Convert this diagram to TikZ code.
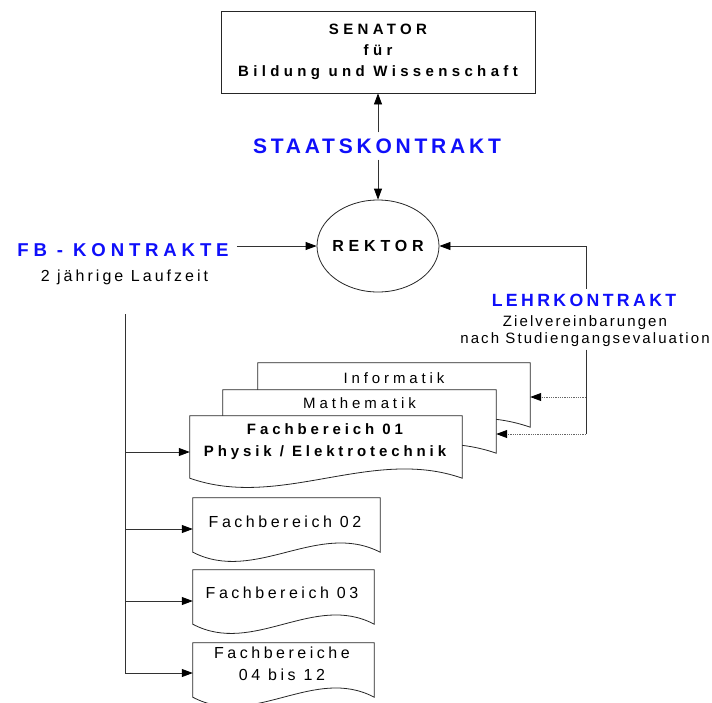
\documentclass[tikz,border=0pt]{standalone}
\usepackage{fontspec}
\setmainfont{Liberation Sans}
\usetikzlibrary{calc,arrows.meta,shapes.geometric}
\definecolor{kblue}{RGB}{15,15,250}
\definecolor{lgray}{RGB}{50,50,50}
\newcommand{\fsz}[2]{\fontsize{#1}{#2}\selectfont}
\newcommand{\trk}[1]{\addfontfeatures{LetterSpace=#1}}
\newcommand{\docoutline}[2]{%
  \draw[shapeline, fill=white] (#1.north west) -- (#1.north east) -- (#1.south east)
    .. controls ($(#1.south east)+(-#2/3,-32)$) and ($(#1.south west)+(#2/3,32)$) .. (#1.south west) -- cycle;}
\begin{document}
\begin{tikzpicture}[x=1pt,y=-1pt,
  shapeline/.style={draw=black!85, line width=0.8pt},
  conn/.style={draw=lgray, line width=0.8pt},
  arr/.style={conn, -{Triangle[length=11pt,width=8pt,color=black]}},
  darr/.style={draw=black!60, line width=0.8pt, densely dotted, -{Triangle[length=11pt,width=8pt,color=black]}},
  docbox/.style={draw=none, inner sep=0pt},
  txt/.style={inner sep=0pt, align=center, text=black}
]
\useasboundingbox (0,0) rectangle (712,702);

% top box
\node[shapeline, rectangle, minimum width=314pt, minimum height=82pt, inner sep=0pt, align=center,
      font=\bfseries\fsz{15}{21}\trk{29}] (senator) at (378,52)
      {SENATOR\\für\\Bildung und Wissenschaft};

% Rektor
\node[shapeline, ellipse, minimum width=122pt, minimum height=92pt, inner sep=0pt,
      font=\bfseries\fsz{16}{19}\trk{30}] (rektor) at (378,246) {\makebox[0pt]{REKTOR}};

% Staatskontrakt
\node[inner sep=6pt, text=kblue, font=\bfseries\fsz{21}{24}\trk{18}] (staats) at (377,146) {STAATSKONTRAKT};
\draw[arr] (senator.south |- staats.north) -- (senator.south);
\draw[arr] (rektor.north |- staats.south) -- (rektor.north);

% FB-Kontrakte
\node[inner sep=8pt, text=kblue, font=\bfseries\fsz{18.6}{22}\trk{26}] (fbk) at (123,250) {FB - KONTRAKTE};
\node[txt, font=\fsz{16}{19}\trk{19}] (lauf) at (124.5,277) {2 jährige Laufzeit};
\draw[arr] (fbk.east |- rektor.west) -- (rektor.west);

% Lehrkontrakt
\node[inner sep=5pt, text=kblue, font=\bfseries\fsz{17.7}{21}\trk{19}] (lehr) at (584,300) {LEHRKONTRAKT};
\node[txt, inner sep=3pt, font=\fsz{15}{17}\trk{14}] (ziel) at (585,331)
      {Zielvereinbarungen\\nach Studiengangsevaluation};
\coordinate (lr) at (586,300);
\draw[arr] (lehr.north -| lr) |- (rektor.east);

% Documents (stacked)
\node[docbox, minimum width=272pt, minimum height=64pt] (inf) at (394,395) {};
\docoutline{inf}{272}
\node[txt, font=\fsz{15}{18}\trk{26}] (inft) at (394,378) {Informatik};

\node[docbox, minimum width=273pt, minimum height=63pt] (math) at (359.5,421.5) {};
\docoutline{math}{273}
\node[txt, font=\fsz{15}{18}\trk{26}] (matht) at (359.5,403) {Mathematik};

\node[docbox, minimum width=272pt, minimum height=62pt] (fb1) at (326,447) {};
\docoutline{fb1}{272}
\node[txt, font=\bfseries\fsz{15}{22}\trk{26}] (fb1t) at (325,442) {Fachbereich 01\\Physik / Elektrotechnik};

\node[docbox, minimum width=187pt, minimum height=54pt] (fb2) at (286.5,525) {};
\docoutline{fb2}{187}
\node[txt, font=\fsz{16}{19}\trk{22}] (fb2t) at (285,522) {Fachbereich 02};

\node[docbox, minimum width=181pt, minimum height=54pt] (fb3) at (283.5,597) {};
\docoutline{fb3}{181}
\node[txt, font=\fsz{16}{19}\trk{22}] (fb3t) at (282,593) {Fachbereich 03};

\node[docbox, minimum width=181pt, minimum height=54pt] (fb4) at (283.5,670) {};
\docoutline{fb4}{181}
\node[txt, font=\fsz{16}{22}\trk{22}] (fb4t) at (282,664) {Fachbereiche\\04 bis 12};

% Lehrkontrakt branches
\coordinate (la) at (586,397);
\coordinate (lb) at (586,434);
\draw[conn] (ziel.south -| lr) -- (lb);
\draw[darr] (la) -- (inf.east |- la);
\draw[darr] (lb) -- (math.east |- lb);

% left tree
\coordinate (lt) at (125,314);
\coordinate (b1) at (125,452);
\coordinate (b2) at (125,529);
\coordinate (b3) at (125,601);
\coordinate (b4) at (125,673);
\draw[conn] (lt) -- (b4);
\draw[arr] (b1) -- (fb1.west |- b1);
\draw[arr] (b2) -- (fb2.west |- b2);
\draw[arr] (b3) -- (fb3.west |- b3);
\draw[arr] (b4) -- (fb4.west |- b4);
\end{tikzpicture}
\end{document}
